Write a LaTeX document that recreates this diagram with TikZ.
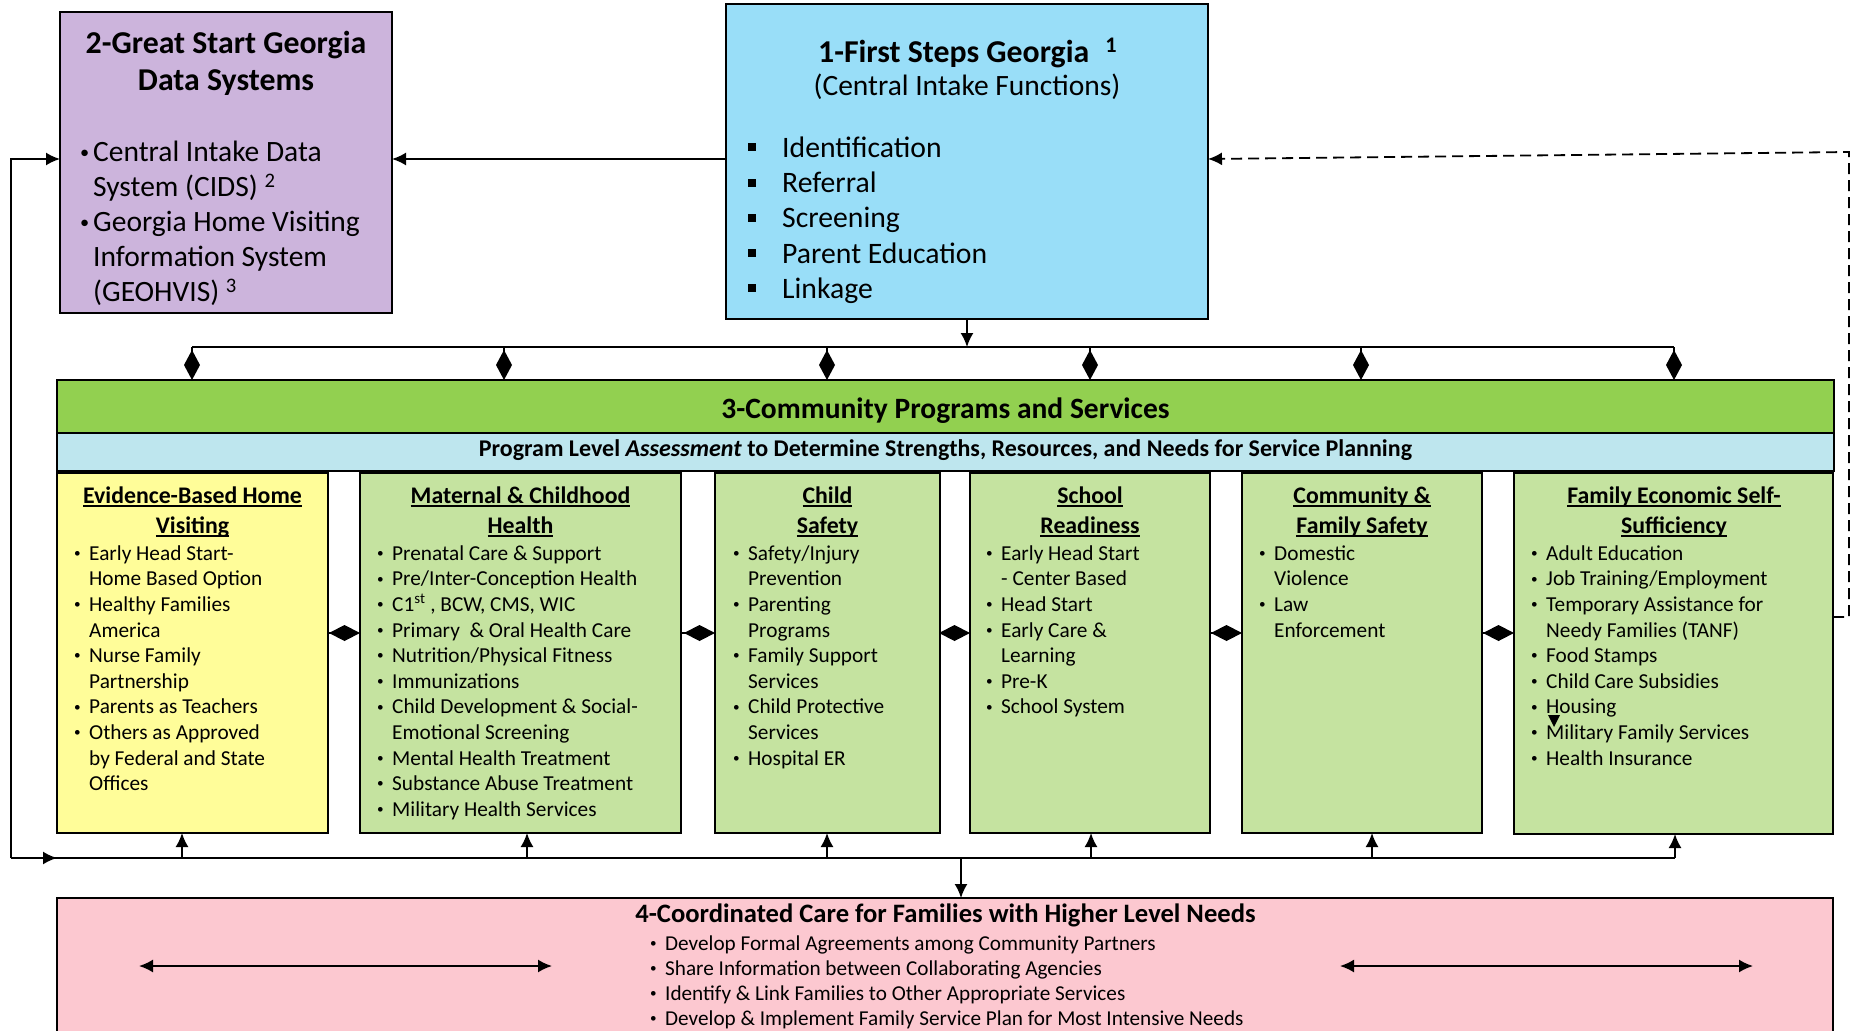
\documentclass[tikz,border=0pt]{standalone}
\usepackage{fontspec}
\usepackage{graphicx}
\setmainfont{Carlito}
\usetikzlibrary{arrows.meta}
\definecolor{cpurple}{RGB}{204,180,220}
\definecolor{cblue}{RGB}{153,222,248}
\definecolor{cgreen}{RGB}{146,208,80}
\definecolor{cbar}{RGB}{190,230,238}
\definecolor{ccol}{RGB}{197,227,160}
\definecolor{cyel}{RGB}{255,253,153}
\definecolor{cpink}{RGB}{252,200,208}
\newcommand{\myul}[1]{\setbox0\hbox{#1}\rlap{\rule[-3.4pt]{\wd0}{1.5pt}}\box0}
\newcommand{\smallbul}{\raisebox{0.13em}{\scalebox{0.62}{\textbullet}}}
\newcommand{\bul}{\makebox[15pt][l]{\smallbul}}
\newcommand{\ind}{\hspace*{15pt}}
\newcommand{\sqb}{\makebox[34pt][l]{\rule[6pt]{8pt}{8pt}}}
\newcommand{\colfont}{\fontsize{21.3}{25.6}\selectfont}
\newcommand{\headfont}{\fontsize{23.8}{30}\selectfont\bfseries}
\newcommand{\bigfont}{\fontsize{29.5}{35}\selectfont}
\newcommand{\bigbold}{\fontsize{31.8}{37}\selectfont\bfseries}
\tikzset{
  box/.style={draw=black, line width=2pt, anchor=north west, inner sep=0pt, outer sep=0pt},
  conn/.style={line width=1.8pt},
  arr/.style={-{Latex[length=14pt,width=13pt]}},
  dia/.style={-{Diamond[length=30pt,width=16pt]}},
  hdia/.style={-{Diamond[length=31pt,width=16pt]}},
  dbl/.style={{Latex[length=14pt,width=13pt]}-{Latex[length=14pt,width=13pt]}},
  lst/.style={anchor=north west, inner sep=0pt, font=\colfont},
  hd/.style={anchor=north, inner sep=0pt, font=\headfont},
  dsh/.style={dash pattern=on 11pt off 6pt},
}
\begin{document}
\begin{tikzpicture}[x=1pt,y=-1pt]
\useasboundingbox (0,0) rectangle (1856,1031);
\clip (0,0) rectangle (1856,1031);

% ---------- boxes ----------
\node[box, fill=cpurple, minimum width=332pt, minimum height=301pt] (gsg) at (60,12) {};
\node[box, fill=cblue, minimum width=482pt, minimum height=315pt] (fsg) at (726,4) {};
\node[box, fill=cgreen, minimum width=1777pt, minimum height=53pt] (cps) at (57,380) {};
\node[box, fill=cbar, minimum width=1777pt, minimum height=38pt] (pla) at (57,433) {};
\node[box, fill=cyel, minimum width=271pt, minimum height=360pt] (c1) at (57,473) {};
\node[box, fill=ccol, minimum width=321pt, minimum height=360pt] (c2) at (360,473) {};
\node[box, fill=ccol, minimum width=225pt, minimum height=360pt] (c3) at (715,473) {};
\node[box, fill=ccol, minimum width=240pt, minimum height=360pt] (c4) at (970,473) {};
\node[box, fill=ccol, minimum width=240pt, minimum height=360pt] (c5) at (1242,473) {};
\node[box, fill=ccol, minimum width=319pt, minimum height=361pt] (c6) at (1514,473) {};
\node[box, fill=cpink, minimum width=1776pt, minimum height=220pt] (ccf) at (57,898) {};

% ---------- box 2 text ----------
\node[anchor=base, inner sep=0pt, font=\bigbold] (gsgt1) at (226,53) {2-Great Start Georgia};
\node[anchor=base, inner sep=0pt, font=\bigbold] (gsgt2) at (226,90) {Data Systems};
\node[anchor=north west, inner sep=0pt, font=\bigfont] (gsgl) at (80,137.2) {\begin{tabular}{@{}l@{}}
\makebox[13pt][l]{\smallbul}Central Intake Data\\
\hspace*{13pt}System (CIDS) \textsuperscript{2}\\
\makebox[13pt][l]{\smallbul}Georgia Home Visiting\\
\hspace*{13pt}Information System\\
\hspace*{13pt}(GEOHVIS) \textsuperscript{3}
\end{tabular}};

% ---------- box 1 text ----------
\node[anchor=base west, inner sep=0pt, font=\bigbold] (fsgt1) at (818,62) {1-First Steps Georgia\hspace{16pt}\textsuperscript{1}};
\node[anchor=base, inner sep=0pt, font=\bigfont] (fsgt2) at (967,95) {(Central Intake Functions)};
\node[anchor=north west, inner sep=0pt, font=\fontsize{29.7}{35.3}\selectfont] (fsgl) at (748,132.3) {\begin{tabular}{@{}l@{}}
\sqb Identification\\
\sqb Referral\\
\sqb Screening\\
\sqb Parent Education\\
\sqb Linkage
\end{tabular}};

% ---------- bars ----------
\node[anchor=base, inner sep=0pt, font=\fontsize{29.5}{34}\selectfont\bfseries] (cpst) at (945.5,418) {3-Community Programs and Services};
\node[anchor=base, inner sep=0pt, font=\fontsize{24}{28}\selectfont\bfseries] (plat) at (945.5,456) {Program Level \textit{Assessment} to Determine Strengths, Resources, and Needs for Service Planning};

% ---------- column headings ----------
\node[hd] (h1) at (192.5,482) {\begin{tabular}{@{}c@{}}\myul{Evidence-Based Home}\\\myul{Visiting}\end{tabular}};
\node[hd] (h2) at (520.5,482) {\begin{tabular}{@{}c@{}}\myul{Maternal \& Childhood}\\\myul{Health}\end{tabular}};
\node[hd] (h3) at (827.5,482) {\begin{tabular}{@{}c@{}}\myul{Child}\\\myul{Safety}\end{tabular}};
\node[hd] (h4) at (1090,482) {\begin{tabular}{@{}c@{}}\myul{School}\\\myul{Readiness}\end{tabular}};
\node[hd] (h5) at (1362,482) {\begin{tabular}{@{}c@{}}\myul{Community \&}\\\myul{Family Safety}\end{tabular}};
\node[hd] (h6) at (1674,482) {\begin{tabular}{@{}c@{}}\myul{Family Economic Self-}\\\myul{Sufficiency}\end{tabular}};

% ---------- column lists ----------
\node[lst] (l1) at (74,542.1) {\begin{tabular}{@{}l@{}}
\bul Early Head Start-\\
\ind Home Based Option\\
\bul Healthy Families\\
\ind America\\
\bul Nurse Family\\
\ind Partnership\\
\bul Parents as Teachers\\
\bul Others as Approved\\
\ind by Federal and State\\
\ind Offices
\end{tabular}};
\node[lst] (l2) at (377,542.1) {\begin{tabular}{@{}l@{}}
\bul Prenatal Care \& Support\\
\bul Pre/Inter-Conception Health\\
\bul C1\textsuperscript{st} , BCW, CMS, WIC\\
\bul Primary\ \ \& Oral Health Care\\
\bul Nutrition/Physical Fitness\\
\bul Immunizations\\
\bul Child Development \& Social-\\
\ind Emotional Screening\\
\bul Mental Health Treatment\\
\bul Substance Abuse Treatment\\
\bul Military Health Services
\end{tabular}};
\node[lst] (l3) at (733,542.1) {\begin{tabular}{@{}l@{}}
\bul Safety/Injury\\
\ind Prevention\\
\bul Parenting\\
\ind Programs\\
\bul Family Support\\
\ind Services\\
\bul Child Protective\\
\ind Services\\
\bul Hospital ER
\end{tabular}};
\node[lst] (l4) at (986,542.1) {\begin{tabular}{@{}l@{}}
\bul Early Head Start\\
\ind - Center Based\\
\bul Head Start\\
\bul Early Care \&\\
\ind Learning\\
\bul Pre-K\\
\bul School System
\end{tabular}};
\node[lst] (l5) at (1259,542.1) {\begin{tabular}{@{}l@{}}
\bul Domestic\\
\ind Violence\\
\bul Law\\
\ind Enforcement
\end{tabular}};
\node[lst] (l6) at (1531,542.1) {\begin{tabular}{@{}l@{}}
\bul Adult Education\\
\bul Job Training/Employment\\
\bul Temporary Assistance for\\
\ind Needy Families (TANF)\\
\bul Food Stamps\\
\bul Child Care Subsidies\\
\bul Housing\\
\bul Military Family Services\\
\bul Health Insurance
\end{tabular}};
\fill (1548,715) -- (1560,715) -- (1554,727) -- cycle;

% ---------- box 4 text ----------
\node[anchor=base, inner sep=0pt, font=\fontsize{26.6}{30}\selectfont\bfseries] (ccft) at (945.5,922) {4-Coordinated Care for Families with Higher Level Needs};
\node[anchor=north west, inner sep=0pt, font=\fontsize{21.2}{25}\selectfont] (ccfl) at (650,932.5) {\begin{tabular}{@{}l@{}}
\bul Develop Formal Agreements among Community Partners\\
\bul Share Information between Collaborating Agencies\\
\bul Identify \& Link Families to Other Appropriate Services\\
\bul Develop \& Implement Family Service Plan for Most Intensive Needs
\end{tabular}};
\coordinate (la) at (139,966); \coordinate (lb) at (552,966);
\coordinate (ra) at (1340,966); \coordinate (rb) at (1753,966);
\draw[conn, dbl] (la) -- (lb);
\draw[conn, dbl] (ra) -- (rb);

% ---------- top connectors ----------
\draw[conn, arr] (fsg.west |- 0,159) -- (gsg.east |- 0,159);
\coordinate (ltop) at (11,159);
\coordinate (lbot) at (11,858);
\draw[conn, arr] (lbot) -- (ltop) -- (gsg.west |- ltop);
\coordinate (dA) at (1849,617);
\coordinate (dB) at (1849,152);
\draw[conn, dsh, arr] (c6.east |- dA) -- (dA) -- (dB) -- (fsg.east |- 0,159);

\coordinate (tbL) at (192,347);
\coordinate (tbR) at (1674,347);
\draw[conn] (tbL) -- (tbR);
\draw[conn, arr] (fsg.south) -- (fsg.south |- tbL);
\foreach \x in {192,504,827,1090,1361,1674}{
  \draw[conn, dia] (\x,347) -- (\x,347 |- cps.north);
}

% ---------- between columns ----------
\draw[conn, hdia] (c1.east |- 0,633) -- (c2.west |- 0,633);
\draw[conn, hdia] (c2.east |- 0,633) -- (c3.west |- 0,633);
\draw[conn, hdia] (c3.east |- 0,633) -- (c4.west |- 0,633);
\draw[conn, hdia] (c4.east |- 0,633) -- (c5.west |- 0,633);
\draw[conn, hdia] (c5.east |- 0,633) -- (c6.west |- 0,633);

% ---------- bottom bus ----------
\coordinate (bbR) at (1675,858);
\draw[conn] (lbot) -- (bbR);
\draw[conn, arr] (lbot) -- (c1.west |- lbot);
\foreach \x/\i in {182/1,527/2,827/3,1091/4,1372/5,1675/6}{
  \draw[conn, arr] (\x,858) -- (\x,858 |- c\i.south);
}
\coordinate (dn) at (961,858);
\draw[conn, arr] (dn) -- (dn |- ccf.north);
\end{tikzpicture}
\end{document}
